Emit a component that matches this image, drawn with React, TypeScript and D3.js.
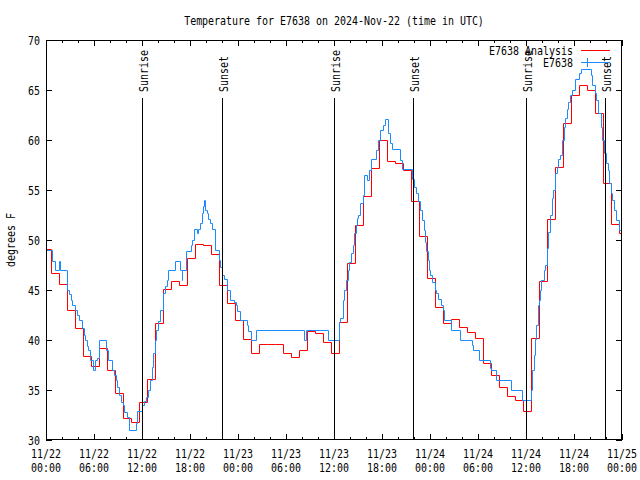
import React from 'react';
import * as d3 from 'd3';

const title = 'Temperature for E7638 on 2024-Nov-22 (time in UTC)';
const yLabel = 'degrees F';
const yTicks = [30, 35, 40, 45, 50, 55, 60, 65, 70];
const xTickHours = [0, 6, 12, 18, 24, 30, 36, 42, 48, 54, 60, 66, 72];
const xTickDates = ['11/22', '11/22', '11/22', '11/22', '11/23', '11/23', '11/23', '11/23', '11/24', '11/24', '11/24', '11/24', '11/25'];
const xTickTimes = ['00:00', '06:00', '12:00', '18:00', '00:00', '06:00', '12:00', '18:00', '00:00', '06:00', '12:00', '18:00', '00:00'];

const sunriseHours = [12.03, 36.03, 60.05];
const sunsetHours = [22.04, 45.92, 69.92];

// Analysis (hourly), first value at hour -0.35
const redStartHour = -0.35;
const redTemps = [
  49.1, 46.7, 45.6, 43.0, 41.2, 38.4, 37.4, 39.2, 37.0, 34.7, 32.2, 31.8,
  33.8, 36.1, 41.7, 45.1, 45.9, 45.5, 48.2, 49.6, 49.5, 48.6, 45.5, 43.7,
  42.0, 40.1, 38.7, 39.6, 39.6, 39.6, 38.7, 38.3, 39.0, 40.9, 40.7, 39.8,
  38.7, 41.8, 47.7, 51.5, 54.4, 57.2, 60.0, 57.9, 57.7, 57.0, 53.9, 50.4,
  46.2, 43.3, 41.7, 42.1, 41.3, 40.8, 40.2, 37.7, 36.5, 35.3, 34.4, 34.0,
  32.9, 40.2, 45.9, 52.1, 57.3, 61.7, 64.5, 65.45, 65.0, 62.7, 55.7, 51.6, 50.7,
];

// Observations: hour of each change, and temperature
const blueHours = [
  -0.3, 0.8, 1.1, 1.65, 1.8, 2.6, 2.9, 3.1, 3.3, 3.6, 3.9, 4.1, 4.45, 4.7, 4.85, 5.1, 5.3, 5.5, 5.85, 6.1,
  6.35, 6.6, 7.45, 7.8, 8.2, 8.5, 8.75, 8.9, 9.15, 9.4, 9.6, 9.75, 10.1, 10.4, 11.25, 11.4, 12.0, 12.25, 12.5, 12.7,
  13.0, 13.2, 13.4, 13.6, 13.8, 14.0, 14.25, 14.6, 14.9, 15.1, 15.3, 16.1, 16.8, 16.95, 17.05, 17.45, 18.1, 18.3, 18.55, 18.85,
  19.05, 19.25, 19.45, 19.6, 19.75, 19.9, 20.1, 20.3, 20.5, 20.7, 21.1, 21.6, 21.8, 22.0, 22.25, 22.6, 23.0, 23.5, 23.75, 23.9,
  24.2, 25.1, 25.3, 25.6, 26.25, 32.25, 32.5, 35.2, 36.67, 36.8, 37.1, 37.25, 37.5, 37.7, 37.9, 38.1, 38.35, 38.5, 38.7, 38.85,
  39.05, 39.25, 39.6, 39.8, 40.1, 40.35, 40.6, 41.25, 41.5, 41.8, 42.1, 42.4, 42.8, 43.0, 43.2, 44.2, 44.5, 45.7, 46.0, 46.25,
  46.5, 46.7, 47.0, 47.2, 47.35, 47.5, 47.7, 47.85, 48.0, 48.2, 48.6, 48.8, 49.0, 49.4, 49.6, 49.8, 50.6, 51.75, 53.2, 53.4,
  54.1, 55.5, 55.6, 56.3, 58.1, 59.5, 60.6, 60.8, 61.0, 61.1, 61.3, 61.45, 61.6, 61.75, 61.9, 62.3, 62.4, 62.6, 62.8, 63.0,
  63.2, 63.4, 63.6, 63.85, 64.05, 64.25, 64.45, 64.7, 64.9, 65.1, 65.3, 65.5, 65.7, 66.1, 66.6, 66.9, 68.1, 68.3, 68.6, 68.8,
  69.0, 69.4, 69.55, 69.8, 70.0, 70.2, 70.4, 70.6, 70.8, 71.0, 71.3, 71.6, 71.9, 72.5,
];
const blueTemps = [
  49.0, 47.9, 47.0, 47.9, 47.0, 45.0, 44.6, 44.0, 43.5, 43.0, 42.5, 42.0, 41.2, 40.5, 40.0, 39.4, 39.0, 38.0, 37.0, 38.0,
  38.2, 40.0, 39.0, 38.0, 37.0, 36.5, 36.0, 35.3, 34.5, 33.8, 33.5, 32.8, 32.3, 31.0, 31.7, 32.9, 33.5, 33.9, 34.3, 35.0,
  36.0, 37.3, 38.7, 40.0, 41.0, 41.9, 43.0, 44.7, 45.4, 46.0, 47.0, 47.9, 47.0, 46.0, 47.0, 48.9, 49.5, 50.0, 51.1, 50.7,
  51.1, 51.7, 52.7, 53.4, 54.0, 53.0, 52.7, 52.1, 51.7, 51.1, 49.0, 48.0, 47.3, 46.5, 46.1, 45.0, 44.0, 43.8, 43.5, 42.9,
  42.0, 41.5, 40.9, 40.0, 41.0, 40.0, 41.0, 40.0, 41.8, 42.2, 44.0, 45.0, 46.0, 47.0, 47.8, 48.7, 49.5, 50.7, 51.5, 52.2,
  52.5, 53.7, 54.5, 56.5, 56.0, 57.0, 58.1, 59.0, 60.0, 61.0, 61.5, 62.1, 60.7, 59.7, 59.1, 58.0, 57.1, 56.1, 55.3, 54.7,
  53.9, 53.0, 52.0, 51.0, 49.8, 48.9, 48.0, 47.0, 46.5, 45.8, 45.0, 44.7, 44.1, 43.5, 43.0, 42.0, 41.0, 40.0, 39.5, 39.0,
  38.0, 37.2, 37.0, 36.0, 35.0, 34.0, 35.0, 37.0, 38.5, 40.1, 41.5, 43.5, 44.0, 45.0, 46.0, 47.0, 47.5, 49.2, 50.8, 52.5,
  54.2, 55.0, 56.7, 57.3, 58.1, 58.5, 60.0, 61.3, 62.2, 63.1, 63.8, 64.5, 65.0, 66.1, 66.7, 67.1, 66.5, 65.5, 64.7, 64.0,
  62.7, 61.3, 60.0, 58.7, 57.7, 57.0, 55.7, 54.7, 54.0, 53.0, 52.0, 51.0, 50.3, 50.3,
];

const seriesNames = ['E7638 Analysis', 'E7638'];
const seriesColors = ['#ff0000', '#1a8cff'];

const W = 640;
const H = 480;
const PL = 46, PR = 622, PT = 40, PB = 440;
const FONT = '"DejaVu Sans Mono", "Liberation Mono", monospace';
const FS = 11.5;
const SX = 6 / (FS * 0.602);

function T(props: {
  x: number;
  y: number;
  anchor?: 'start' | 'middle' | 'end';
  rot?: number;
  children: React.ReactNode;
}) {
  const { x, y, anchor = 'start', rot = 0, children } = props;
  return (
    <text
      transform={`translate(${x},${y}) rotate(${rot}) scale(${SX},1)`}
      textAnchor={anchor}
      fontFamily={FONT}
      fontSize={FS}
      fill="#000"
    >
      {children}
    </text>
  );
}

export default function App() {
  const x = d3.scaleLinear().domain([0, 72]).range([PL, PR]);
  const y = d3.scaleLinear().domain([30, 70]).range([PB, PT]);
  const px = (v: number) => Math.round(v) + 0.5;

  const redPts: [number, number][] = redTemps.map((v, i) => [redStartHour + i, v]);
  redPts.push([redStartHour + redTemps.length, redTemps[redTemps.length - 1]]);
  const bluePts: [number, number][] = blueHours.map((h, i) => [h, blueTemps[i]]);

  const line = d3
    .line<[number, number]>()
    .x((d) => px(x(d[0])))
    .y((d) => px(y(d[1])))
    .curve(d3.curveStepAfter);

  const minorHours = d3.range(0, 73, 2).filter((h) => h % 6 !== 0);
  const majorLen = 6;
  const minorLen = 3;

  return (
    <svg
      width={W}
      height={H}
      style={{ position: 'absolute', left: 0, top: 0, background: '#fff' }}
    >
      <defs>
        <clipPath id="plotclip">
          <rect x={PL} y={PT} width={PR - PL} height={PB - PT} />
        </clipPath>
      </defs>
      <rect x={0} y={0} width={W} height={H} fill="#fff" />

      <T x={(PL + PR) / 2} y={24.5} anchor="middle">
        {title}
      </T>

      <T x={15} y={(PT + PB) / 2} anchor="middle" rot={-90}>
        {yLabel}
      </T>

      {yTicks.map((t) => (
        <g key={'y' + t}>
          <line x1={PL} x2={PL + majorLen} y1={px(y(t))} y2={px(y(t))} stroke="#000" />
          <line x1={PR - majorLen} x2={PR} y1={px(y(t))} y2={px(y(t))} stroke="#000" />
          <T x={40} y={y(t) + 4.5} anchor="end">
            {t}
          </T>
        </g>
      ))}

      {xTickHours.map((h, i) => (
        <g key={'x' + h}>
          <line x1={px(x(h))} x2={px(x(h))} y1={PB} y2={PB - majorLen} stroke="#000" />
          <line x1={px(x(h))} x2={px(x(h))} y1={PT} y2={PT + majorLen} stroke="#000" />
          <T x={x(h)} y={457.5} anchor="middle">
            {xTickDates[i]}
          </T>
          <T x={x(h)} y={471.5} anchor="middle">
            {xTickTimes[i]}
          </T>
        </g>
      ))}
      {minorHours.map((h) => (
        <g key={'m' + h}>
          <line x1={px(x(h))} x2={px(x(h))} y1={PB} y2={PB - minorLen} stroke="#000" />
          <line x1={px(x(h))} x2={px(x(h))} y1={PT} y2={PT + minorLen} stroke="#000" />
        </g>
      ))}

      <g clipPath="url(#plotclip)">
        <path d={line(redPts) || ''} fill="none" stroke={seriesColors[0]} strokeWidth={1} />
        <path d={line(bluePts) || ''} fill="none" stroke={seriesColors[1]} strokeWidth={1} />
      </g>

      {sunriseHours.map((h) => (
        <g key={'sr' + h}>
          <line x1={px(x(h))} x2={px(x(h))} y1={98} y2={PB} stroke="#000" strokeWidth={1} />
          <T x={Math.round(x(h)) + 6} y={92} rot={-90}>
            Sunrise
          </T>
        </g>
      ))}
      {sunsetHours.map((h) => (
        <g key={'ss' + h}>
          <line x1={px(x(h))} x2={px(x(h))} y1={98} y2={PB} stroke="#000" strokeWidth={1} />
          <T x={Math.round(x(h)) + 6} y={92} rot={-90}>
            Sunset
          </T>
        </g>
      ))}

      {seriesNames.map((n, i) => (
        <g key={'lg' + i}>
          <T x={573} y={54.5 + i * 12} anchor="end">
            {n}
          </T>
          <line x1={581} x2={610} y1={50.5 + i * 12} y2={50.5 + i * 12} stroke={seriesColors[i]} strokeWidth={1} />
        </g>
      ))}
      <line x1={587.5} x2={587.5} y1={58} y2={67} stroke={seriesColors[1]} strokeWidth={1} />
      <line x1={583} x2={592} y1={62.5} y2={62.5} stroke={seriesColors[1]} strokeWidth={1} />

      <rect x={PL + 0.5} y={PT + 0.5} width={PR - PL - 1} height={PB - PT - 1} fill="none" stroke="#000" />
    </svg>
  );
}
